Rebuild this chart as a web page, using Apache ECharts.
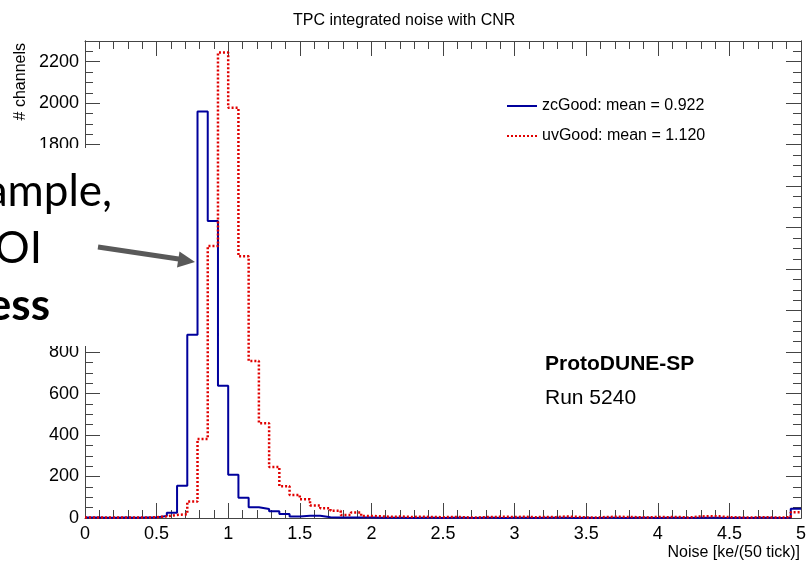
<!DOCTYPE html>
<html>
<head>
<meta charset="utf-8">
<script src="https://cdn.jsdelivr.net/npm/echarts/dist/echarts.min.js"></script>
<style>
    html, body { margin: 0; padding: 0; background: #fff; }
    #noise-chart { width: 809px; height: 567px; }
</style>
</head>
<body>
<div id="noise-chart"></div>
<script>
// 70 bins between 0 and 5 ke/(50 tick), bin width 1/14
var binCount = 70;
var xMin = 0;
var xMax = 5;
var xTicks = [0, 0.5, 1, 1.5, 2, 2.5, 3, 3.5, 4, 4.5, 5];
var yTicks = [0, 200, 400, 600, 800, 1000, 1200, 1400, 1600, 1800, 2000, 2200];

var zcGood = [
    2, 1, 1, 2, 1, 2, 3, 10, 25, 155,
    884, 1960, 1432, 638, 208, 98, 52, 43, 33, 19,
    7, 11, 11, 4, 3, 3, 2, 2, 1, 1,
    1, 0, 1, 1, 0, 1, 1, 0, 1, 1,
    0, 1, 1, 0, 1, 1, 1, 0, 1, 0,
    1, 1, 0, 1, 1, 0, 1, 1, 0, 1,
    1, 1, 0, 1, 0, 1, 1, 0, 1, 45
];
var uvGood = [
    3, 2, 3, 2, 3, 2, 4, 8, 15, 18,
    79, 381, 1312, 2245, 1978, 1262, 757, 457, 246, 153,
    111, 90, 60, 47, 35, 15, 26, 10, 8, 6,
    7, 5, 6, 5, 4, 5, 4, 2, 4, 5,
    6, 5, 6, 4, 5, 4, 7, 6, 3, 2,
    5, 6, 5, 4, 3, 5, 4, 5, 2, 7,
    9, 8, 4, 3, 2, 4, 3, 2, 4, 28
];

// turn bin contents into step points at the bin edges
function histPoints(counts) {
    var w = (xMax - xMin) / binCount;
    var pts = [];
    for (var i = 0; i < counts.length; i++) {
        pts.push([xMin + i * w, counts[i]]);
    }
    pts.push([xMax, counts[counts.length - 1]]);
    return pts;
}

var chart = echarts.init(document.getElementById('noise-chart'));
var axisColor = '#444';
var font = 'Liberation Sans, Arial, sans-serif';

function xAxisDef(pos, labels) {
    return {
        type: 'value',
        position: pos,
        min: xMin,
        max: xMax,
        interval: xTicks[1] - xTicks[0],
        axisLine: { show: true, onZero: false, lineStyle: { color: axisColor, width: 1 } },
        axisTick: { show: true, inside: true, length: 15, lineStyle: { color: axisColor } },
        minorTick: { show: true, splitNumber: 5, length: 8, lineStyle: { color: axisColor } },
        splitLine: { show: false },
        axisLabel: {
            show: labels,
            margin: 7,
            fontSize: 18,
            fontFamily: font,
            color: '#000'
        }
    };
}

function yAxisDef(pos, interval, tickLen, labels) {
    return {
        type: 'value',
        position: pos,
        min: 0,
        max: 2300,
        interval: interval,
        axisLine: { show: true, onZero: false, lineStyle: { color: axisColor, width: 1 } },
        axisTick: { show: true, inside: true, length: tickLen, lineStyle: { color: axisColor } },
        splitLine: { show: false },
        axisLabel: {
            show: labels,
            margin: 6,
            fontSize: 18,
            fontFamily: font,
            color: '#000',
            showMaxLabel: false,
            formatter: function (v) { return String(v); }
        }
    };
}

var option = {
    animation: false,
    backgroundColor: '#fff',
    title: {
        text: 'TPC integrated noise with CNR',
        left: 288,
        top: 8,
        textStyle: { fontSize: 16, fontWeight: 'normal', fontFamily: font, color: '#000' }
    },
    legend: {
        orient: 'vertical',
        left: 501,
        top: 93,
        itemWidth: 30,
        itemHeight: 14,
        itemGap: 14,
        itemStyle: { opacity: 0 },
        textStyle: { fontSize: 16, fontFamily: font, color: '#000' },
        data: ['zcGood: mean = 0.922', 'uvGood: mean = 1.120']
    },
    grid: {
        left: 85,
        right: 8,
        top: 41,
        bottom: 49
    },
    xAxis: [
        xAxisDef('bottom', true),
        xAxisDef('top', false)
    ],
    yAxis: [
        yAxisDef('left', yTicks[1] - yTicks[0], 15, true),
        yAxisDef('left', 50, 8, false),
        yAxisDef('right', yTicks[1] - yTicks[0], 15, false),
        yAxisDef('right', 50, 8, false)
    ],
    series: [
        {
            name: 'zcGood: mean = 0.922',
            type: 'line',
            step: 'end',
            symbol: 'none',
            xAxisIndex: 0,
            yAxisIndex: 0,
            lineStyle: { color: '#00009c', width: 2 },
            itemStyle: { color: '#00009c' },
            data: histPoints(zcGood)
        },
        {
            name: 'uvGood: mean = 1.120',
            type: 'line',
            step: 'end',
            symbol: 'none',
            xAxisIndex: 0,
            yAxisIndex: 0,
            lineStyle: { color: '#e00000', width: 2.5, type: [2, 2] },
            itemStyle: { color: '#e00000' },
            data: histPoints(uvGood)
        }
    ],
    graphic: [
        {
            type: 'text',
            x: 800, y: 553,
            style: { text: 'Noise [ke/(50 tick)]', align: 'right', verticalAlign: 'middle',
                     font: '16px ' + font, fill: '#000' }
        },
        {
            type: 'text',
            x: 21, y: 43,
            rotation: Math.PI / 2,
            style: { text: '# channels', align: 'right', verticalAlign: 'middle',
                     font: '16px ' + font, fill: '#000' }
        },
        {
            type: 'text',
            x: 545, y: 364,
            style: { text: 'ProtoDUNE-SP', verticalAlign: 'middle',
                     font: 'bold 21px ' + font, fill: '#000' }
        },
        {
            type: 'text',
            x: 545, y: 398,
            style: { text: 'Run 5240', verticalAlign: 'middle',
                     font: '21px ' + font, fill: '#000' }
        },
        // piece of the slide lying over the plot
        {
            type: 'rect',
            z: 100,
            shape: { x: 0, y: 148, width: 150, height: 198 },
            style: { fill: '#fff' }
        },
        {
            type: 'text', z: 101,
            x: 112, y: 192,
            style: { text: 'ample,', align: 'right', verticalAlign: 'middle',
                     font: '44px Lato, sans-serif', fill: '#000' }
        },
        {
            type: 'text', z: 101,
            x: 42, y: 249,
            style: { text: 'OI', align: 'right', verticalAlign: 'middle',
                     font: '44px Lato, sans-serif', fill: '#000' }
        },
        {
            type: 'text', z: 101,
            x: 50, y: 306,
            style: { text: 'ess', align: 'right', verticalAlign: 'middle',
                     font: 'bold 44px Lato, sans-serif', fill: '#000' }
        },
        {
            type: 'line', z: 101,
            shape: { x1: 98, y1: 247, x2: 182, y2: 259.5 },
            style: { stroke: '#595959', lineWidth: 5 }
        },
        {
            type: 'polygon', z: 101,
            shape: { points: [[195, 262], [177, 267.5], [179.5, 251.5]] },
            style: { fill: '#595959' }
        }
    ]
};
chart.setOption(option);
window.onresize = chart.resize;
</script>
</body>
</html>
